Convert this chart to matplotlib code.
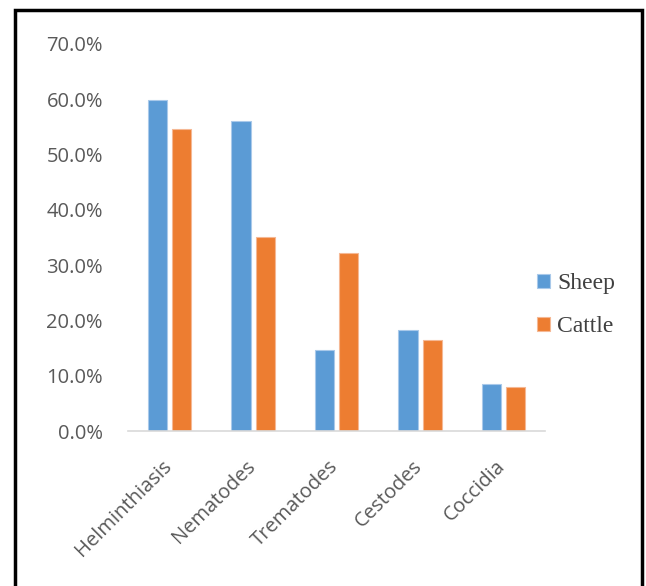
import matplotlib.pyplot as plt
import matplotlib.transforms as mtransforms
import numpy as np
from matplotlib.patches import Rectangle

categories = ['Helminthiasis', 'Nematodes', 'Trematodes', 'Cestodes', 'Coccidia']
sheep = [59.8, 56.1, 14.6, 18.3, 8.5]
cattle = [54.7, 35.0, 32.2, 16.4, 7.9]
yticks = [0, 10, 20, 30, 40, 50, 60, 70]


def main():
    fig = plt.figure(figsize=(6.46, 5.86), dpi=100)
    ax = fig.add_axes([0.198, 0.2645, 0.646, 0.6605])

    x = np.arange(len(categories))
    w = 0.23
    ax.bar(x - 0.145, sheep, w, color='#5b9bd5', edgecolor='#a9c9ea', linewidth=0.8, label='Sheep')
    ax.bar(x + 0.145, cattle, w, color='#ed7d31', edgecolor='#f5b894', linewidth=0.8, label='Cattle')

    ax.set_xlim(-0.5, len(categories) - 0.5)
    ax.set_ylim(0, 70)
    ax.set_yticks(yticks)
    ax.set_yticklabels(['%.1f%%' % v for v in yticks], fontsize=14.5, color='#595959', family='Open Sans')
    ax.set_xticks(x)
    ax.set_xticklabels(categories, rotation=45, ha='right', rotation_mode='anchor',
                       fontsize=14.5, color='#595959', family='Open Sans')
    ax.tick_params(length=0)
    ax.tick_params(axis='y', pad=18)
    ax.tick_params(axis='x', pad=18)

    # nudge category labels a little to the left
    offset = mtransforms.ScaledTranslation(-8 / 100, 0, fig.dpi_scale_trans)
    for lbl in ax.get_xticklabels():
        lbl.set_transform(lbl.get_transform() + offset)

    for s in ['top', 'right', 'left']:
        ax.spines[s].set_visible(False)
    ax.spines['bottom'].set_color('#d9d9d9')
    ax.spines['bottom'].set_linewidth(1.2)

    ax.legend(loc='center left', bbox_to_anchor=(0.929, 0.325), frameon=False,
              prop={'family': 'Liberation Serif', 'size': 17}, handlelength=0.55,
              handleheight=0.55, handletextpad=0.3, labelspacing=0.95, labelcolor='#404040')

    # outer frame
    fig.patches.append(Rectangle((15 / 646, -0.05), 627 / 646, 1 - 10 / 586 + 0.05,
                                 transform=fig.transFigure, fill=False,
                                 edgecolor='black', linewidth=2.5))

    fig.savefig('out.png', dpi=100)


if __name__ == "__main__":
    main()
